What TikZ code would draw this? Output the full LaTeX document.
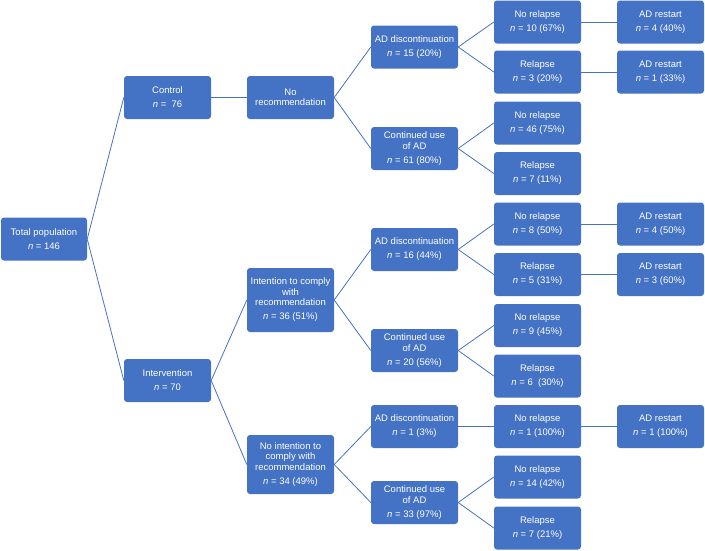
\documentclass[tikz,border=0pt]{standalone}
\usepackage{fontspec}
\setmainfont{Liberation Sans}
\definecolor{boxblue}{HTML}{4472C4}
\newcommand{\nv}{\textit{n}}
\tikzset{
  box/.style={fill=boxblue, rounded corners=3pt, text=white, align=center,
    minimum width=87pt, minimum height=43pt, inner sep=0pt,
    font=\fontsize{9.5}{10.5}\selectfont},
  link/.style={draw=boxblue, line width=0.8pt}
}
\begin{document}
\begin{tikzpicture}[x=1pt, y=-1pt]
\useasboundingbox (0,0) rectangle (705,550);
% column 1-3
\node[box, minimum width=86pt] (tot) at (44,239) {Total population\\[3.5pt]\nv{} = 146};
\node[box] (ctl) at (167.5,97.5) {Control\\[3.5pt]\nv{} =\ \ 76};
\node[box] (int) at (167.5,380.5) {Intervention\\[3.5pt]\nv{} = 70};
\node[box] (norec) at (290.5,97.5) {No\\recommendation};
\node[box, minimum height=64pt] (intc) at (290.5,300) {Intention to comply\\with\\recommendation\\[3.5pt]\nv{} = 36 (51\%)};
\node[box, minimum height=59pt] (nointc) at (290.5,464.5) {No intention to\\comply with\\recommendation\\[3.5pt]\nv{} = 34 (49\%)};
% column 4
\node[box] (d1) at (414.5,47) {AD discontinuation\\[3.5pt]\nv{} = 15 (20\%)};
\node[box] (c1) at (414.5,148.5) {Continued use\\of AD\\[3.5pt]\nv{} = 61 (80\%)};
\node[box] (d2) at (414.5,249.5) {AD discontinuation\\[3.5pt]\nv{} = 16 (44\%)};
\node[box] (c2) at (414.5,350.5) {Continued use\\of AD\\[3.5pt]\nv{} = 20 (56\%)};
\node[box] (d3) at (414.5,426.5) {AD discontinuation\\[3.5pt]\nv{} = 1 (3\%)};
\node[box] (c3) at (414.5,502.5) {Continued use\\of AD\\[3.5pt]\nv{} = 33 (97\%)};
% column 5
\node[box] (nr1) at (537.5,22) {No relapse\\[3.5pt]\nv{} = 10 (67\%)};
\node[box] (r1) at (537.5,72) {Relapse\\[3.5pt]\nv{} = 3 (20\%)};
\node[box] (nr2) at (537.5,123) {No relapse\\[3.5pt]\nv{} = 46 (75\%)};
\node[box] (r2) at (537.5,173.5) {Relapse\\[3.5pt]\nv{} = 7 (11\%)};
\node[box] (nr3) at (537.5,224) {No relapse\\[3.5pt]\nv{} = 8 (50\%)};
\node[box] (r3) at (537.5,274.5) {Relapse\\[3.5pt]\nv{} = 5 (31\%)};
\node[box] (nr4) at (537.5,325.5) {No relapse\\[3.5pt]\nv{} = 9 (45\%)};
\node[box] (r4) at (537.5,376) {Relapse\\[3.5pt]\nv{} = 6\ \ (30\%)};
\node[box] (nr5) at (537.5,426.5) {No relapse\\[3.5pt]\nv{} = 1 (100\%)};
\node[box] (nr6) at (537.5,477) {No relapse\\[3.5pt]\nv{} = 14 (42\%)};
\node[box] (r6) at (537.5,528) {Relapse\\[3.5pt]\nv{} = 7 (21\%)};
% column 6
\node[box] (a1) at (660.5,22) {AD restart\\[3.5pt]\nv{} = 4 (40\%)};
\node[box] (a2) at (660.5,72) {AD restart\\[3.5pt]\nv{} = 1 (33\%)};
\node[box] (a3) at (660.5,224) {AD restart\\[3.5pt]\nv{} = 4 (50\%)};
\node[box] (a4) at (660.5,274.5) {AD restart\\[3.5pt]\nv{} = 3 (60\%)};
\node[box] (a5) at (660.5,426.5) {AD restart\\[3.5pt]\nv{} = 1 (100\%)};
% connectors
\foreach \a/\b in {tot/ctl, tot/int, ctl/norec, norec/d1, norec/c1, int/intc, int/nointc,
  intc/d2, intc/c2, nointc/d3, nointc/c3, d1/nr1, d1/r1, c1/nr2, c1/r2, d2/nr3, d2/r3,
  c2/nr4, c2/r4, d3/nr5, c3/nr6, c3/r6, nr1/a1, r1/a2, nr3/a3, r3/a4, nr5/a5}
  \draw[link] (\a.east) -- (\b.west);
\end{tikzpicture}
\end{document}
